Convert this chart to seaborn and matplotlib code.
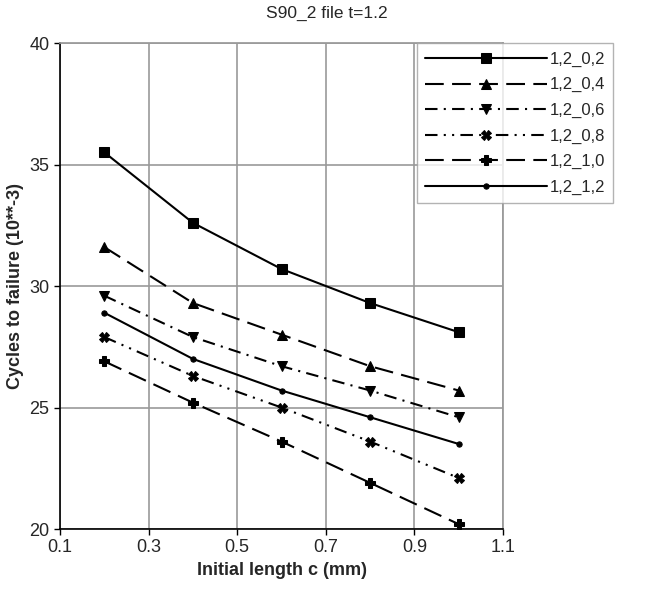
import matplotlib
matplotlib.use("Agg")
import matplotlib.pyplot as plt
import seaborn as sns
import pandas as pd

# data
crack_length = [0.2, 0.4, 0.6, 0.8, 1.0]
series_names = ["1,2_0,2", "1,2_0,4", "1,2_0,6", "1,2_0,8", "1,2_1,0", "1,2_1,2"]
s_0_2 = [35.5, 32.6, 30.7, 29.3, 28.1]
s_0_4 = [31.6, 29.3, 28.0, 26.7, 25.7]
s_0_6 = [29.6, 27.9, 26.7, 25.7, 24.6]
s_0_8 = [27.9, 26.3, 25.0, 23.6, 22.1]
s_1_0 = [26.9, 25.2, 23.6, 21.9, 20.2]
s_1_2 = [28.9, 27.0, 25.7, 24.6, 23.5]

values = [s_0_2, s_0_4, s_0_6, s_0_8, s_1_0, s_1_2]
rows = []
for name, vals in zip(series_names, values):
    for c, v in zip(crack_length, vals):
        rows.append({"c": c, "cycles": v, "series": name})
df = pd.DataFrame(rows)

sns.set_theme(style="white")
plt.rcParams['font.family'] = ['Liberation Sans', 'DejaVu Sans']

fig = plt.figure(figsize=(6.49, 5.94), dpi=100)
ax = fig.add_axes([0.0925, 0.1094, 0.6825, 0.8182])

dashes = {
    "1,2_0,2": "",
    "1,2_0,4": (9, 4),
    "1,2_0,6": (6, 3, 1, 3),
    "1,2_0,8": (6, 3, 1, 3, 1, 3),
    "1,2_1,0": (9, 4),
    "1,2_1,2": "",
}
markers = {
    "1,2_0,2": "s",
    "1,2_0,4": "^",
    "1,2_0,6": "v",
    "1,2_0,8": "X",
    "1,2_1,0": "P",
    "1,2_1,2": "o",
}
sns.lineplot(data=df, x="c", y="cycles", hue="series", style="series",
             palette=["black"] * 6, dashes=dashes, markers=markers,
             linewidth=1.5, markersize=6.5, markeredgecolor="black", ax=ax)

# smaller dot for the last series
for line in ax.lines:
    if line.get_marker() == "o":
        line.set_markersize(3.8)

handles, labels = ax.get_legend_handles_labels()
ax.get_legend().remove()
for h in handles:
    h.set_markersize(6.5)
    if h.get_marker() == "o":
        h.set_markersize(3.8)
leg = fig.legend(handles, labels, loc="upper right", bbox_to_anchor=(0.945, 0.927),
                 frameon=True, fancybox=False, handlelength=7.3, fontsize=12,
                 labelspacing=0.63, borderpad=0.5, handletextpad=0.15,
                 borderaxespad=0.0)
leg.get_frame().set_edgecolor("#a0a0a0")
leg.get_frame().set_linewidth(1.0)

ax.set_xlim(0.1, 1.1)
ax.set_ylim(20, 40)
ax.set_xticks([0.1, 0.3, 0.5, 0.7, 0.9, 1.1])
ax.set_yticks([20, 25, 30, 35, 40])
ax.grid(True, color="#999999", linewidth=1.2)
ax.set_axisbelow(True)
for side in ["top", "right"]:
    ax.spines[side].set_color("#999999")
for side in ["left", "bottom"]:
    ax.spines[side].set_color("black")
    ax.spines[side].set_linewidth(1.2)
ax.tick_params(axis="both", direction="out", length=4, width=1, color="black",
               labelsize=13, left=True, bottom=True)
ax.set_xlabel("Initial length c (mm)", fontsize=13, fontweight="bold")
ax.set_ylabel("Cycles to failure (10**-3)", fontsize=13, fontweight="bold")
fig.text(0.504, 0.978, "S90_2 file t=1.2", ha="center", va="center", fontsize=12.5)

fig.savefig("out.png", dpi=100)
